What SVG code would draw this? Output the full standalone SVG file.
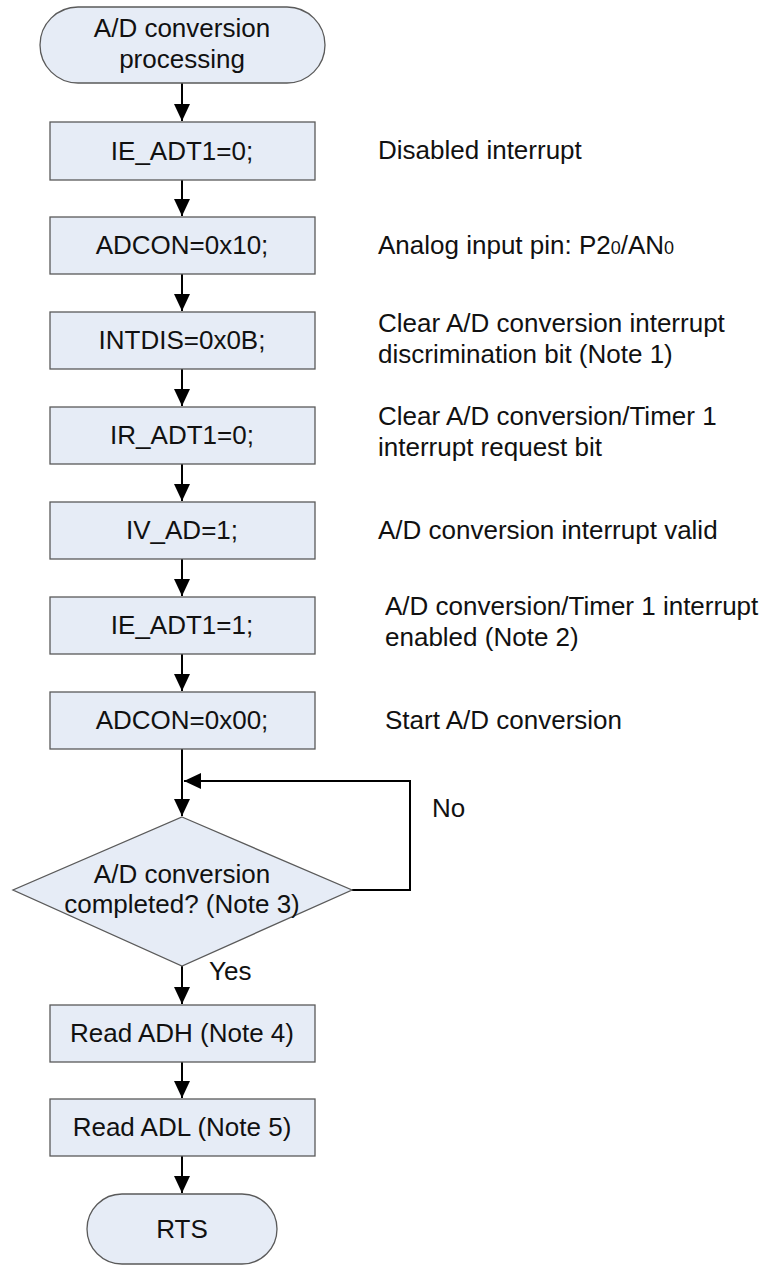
<svg xmlns="http://www.w3.org/2000/svg" width="775" height="1266" viewBox="0 0 775 1266">
<style>
.n{fill:#E6ECF6;stroke:#5a5a5a;stroke-width:1.3}
.t{font-family:"Liberation Sans",Arial,sans-serif;font-size:26px;fill:#111}
.c{text-anchor:middle}
.e{fill:none;stroke:#000;stroke-width:2}
.s{font-size:18px}
</style>
<defs>
<marker id="a" markerUnits="userSpaceOnUse" markerWidth="18" markerHeight="18" refX="17" refY="8" orient="auto">
<path d="M0,0 L17,8 L0,16 Z" fill="#000"/>
</marker>
</defs>
<rect width="775" height="1266" fill="#fff"/>
<g id="connectors">
<path class="e" d="M182,83 V121" marker-end="url(#a)"/>
<path class="e" d="M182,180 V216" marker-end="url(#a)"/>
<path class="e" d="M182,274 V311" marker-end="url(#a)"/>
<path class="e" d="M182,369 V406" marker-end="url(#a)"/>
<path class="e" d="M182,464 V501" marker-end="url(#a)"/>
<path class="e" d="M182,559 V596" marker-end="url(#a)"/>
<path class="e" d="M182,654 V691" marker-end="url(#a)"/>
<path class="e" d="M182,749 V816" marker-end="url(#a)"/>
<path class="e" d="M352,890 H410 V781 H184" marker-end="url(#a)"/>
<path class="e" d="M182,966 V1004" marker-end="url(#a)"/>
<path class="e" d="M182,1062 V1098" marker-end="url(#a)"/>
<path class="e" d="M182,1156 V1193" marker-end="url(#a)"/>
<text class="t" x="209" y="980">Yes</text>
<text class="t" x="432" y="817">No</text>
</g>
<g id="start">
<rect class="n" x="40" y="7" width="285" height="76" rx="38"/>
<text class="t c" x="182" y="37">A/D conversion</text>
<text class="t c" x="182" y="68">processing</text>
</g>
<g id="n1">
<rect class="n" x="50" y="122" width="265" height="58"/>
<text class="t c" x="182" y="160">IE_ADT1=0;</text>
<text class="t" x="378" y="159">Disabled interrupt</text>
</g>
<g id="n2">
<rect class="n" x="50" y="217" width="265" height="57"/>
<text class="t c" x="182" y="254">ADCON=0x10;</text>
<text class="t" x="378" y="254">Analog input pin: P2<tspan class="s">0</tspan>/AN<tspan class="s">0</tspan></text>
</g>
<g id="n3">
<rect class="n" x="50" y="312" width="265" height="57"/>
<text class="t c" x="182" y="349">INTDIS=0x0B;</text>
<text class="t" x="378" y="332">Clear A/D conversion interrupt</text>
<text class="t" x="378" y="363">discrimination bit (Note 1)</text>
</g>
<g id="n4">
<rect class="n" x="50" y="407" width="265" height="57"/>
<text class="t c" x="182" y="444">IR_ADT1=0;</text>
<text class="t" x="378" y="425">Clear A/D conversion/Timer 1</text>
<text class="t" x="378" y="456">interrupt request bit</text>
</g>
<g id="n5">
<rect class="n" x="50" y="502" width="265" height="57"/>
<text class="t c" x="182" y="539">IV_AD=1;</text>
<text class="t" x="378" y="539">A/D conversion interrupt valid</text>
</g>
<g id="n6">
<rect class="n" x="50" y="597" width="265" height="57"/>
<text class="t c" x="182" y="634">IE_ADT1=1;</text>
<text class="t" x="385" y="615">A/D conversion/Timer 1 interrupt</text>
<text class="t" x="385" y="646">enabled (Note 2)</text>
</g>
<g id="n7">
<rect class="n" x="50" y="692" width="265" height="57"/>
<text class="t c" x="182" y="729">ADCON=0x00;</text>
<text class="t" x="385" y="729">Start A/D conversion</text>
</g>
<g id="decision">
<polygon class="n" points="182,817 352,890 182,966 13,890"/>
<text class="t c" x="182" y="883">A/D conversion</text>
<text class="t c" x="182" y="913">completed? (Note 3)</text>
</g>
<g id="n8">
<rect class="n" x="50" y="1005" width="265" height="57"/>
<text class="t c" x="182" y="1042">Read ADH (Note 4)</text>
</g>
<g id="n9">
<rect class="n" x="50" y="1099" width="265" height="57"/>
<text class="t c" x="182" y="1136">Read ADL (Note 5)</text>
</g>
<g id="end">
<rect class="n" x="87" y="1194" width="190" height="70" rx="35"/>
<text class="t c" x="182" y="1238">RTS</text>
</g>
</svg>
